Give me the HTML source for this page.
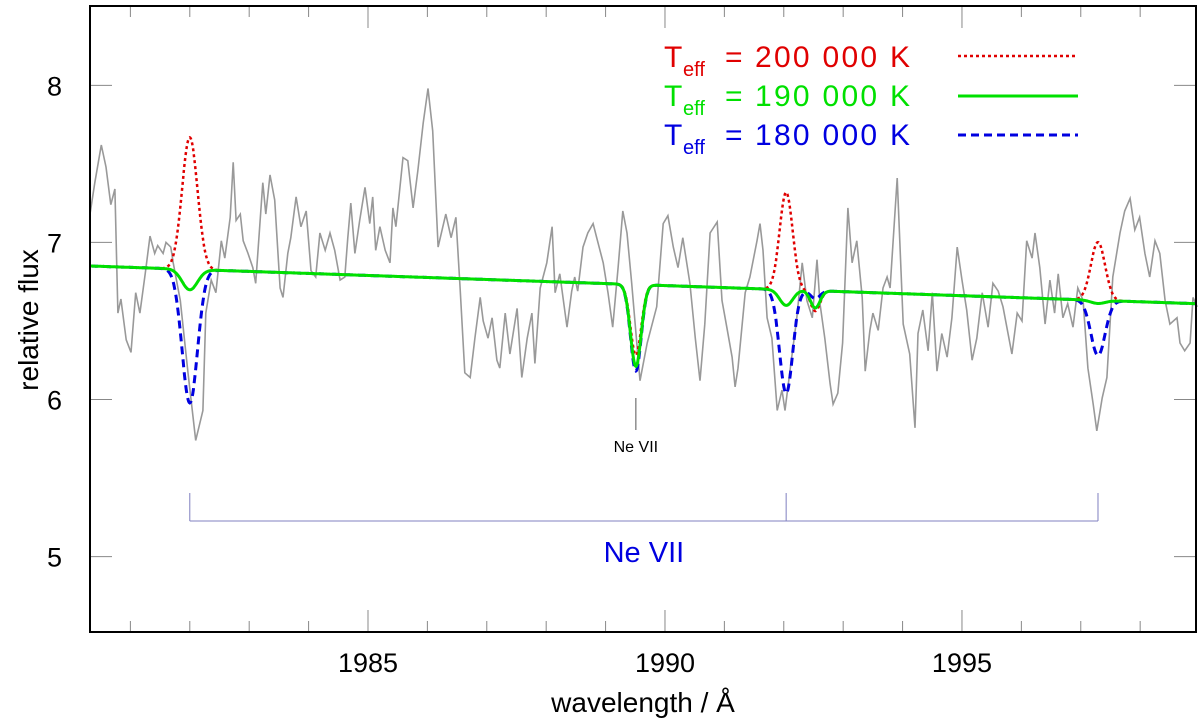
<!DOCTYPE html>
<html><head><meta charset="utf-8"><style>
html,body{margin:0;padding:0;background:#fff}
svg{display:block;font-family:"Liberation Sans",sans-serif}
</style></head><body>
<svg id="chart" width="1200" height="725" viewBox="0 0 1200 725" xmlns="http://www.w3.org/2000/svg">
<g id="plot"></g>
<g id="axes"></g>
<text x="0" y="0" transform="translate(38,320) rotate(-90)" text-anchor="middle" font-size="28">relative flux</text>
<text x="643" y="712" text-anchor="middle" font-size="28">wavelength / Å</text>
<g font-size="30">
<text y="67" fill="#e00000"><tspan x="664">T</tspan><tspan x="683" font-size="20" dy="9">eff</tspan><tspan x="725" dy="-9">=</tspan><tspan x="755" textLength="155">200 000 K</tspan></text>
<text y="106" fill="#00e000"><tspan x="664">T</tspan><tspan x="683" font-size="20" dy="9">eff</tspan><tspan x="725" dy="-9">=</tspan><tspan x="755" textLength="155">190 000 K</tspan></text>
<text y="145" fill="#0000e0"><tspan x="664">T</tspan><tspan x="683" font-size="20" dy="9">eff</tspan><tspan x="725" dy="-9">=</tspan><tspan x="755" textLength="155">180 000 K</tspan></text>
<line x1="958" y1="56" x2="1078" y2="56" stroke="#e00000" stroke-width="2.5" stroke-dasharray="3,3"/>
<line x1="958" y1="96" x2="1078" y2="96" stroke="#00e000" stroke-width="3"/>
<line x1="958" y1="135" x2="1078" y2="135" stroke="#0000e0" stroke-width="3" stroke-dasharray="8,5"/>
</g>
</svg>
<script>
const xMin = 1980.32, xMax = 1998.94, yMin = 4.52, yMax = 8.505;
const xTicks = [1981,1982,1983,1984,1985,1986,1987,1988,1989,1990,1991,1992,1993,1994,1995,1996,1997,1998];
const xTickLabels = [1985,1990,1995];
const yTickLabels = [5,6,7,8];
const obsWl = [1980.32,1980.40,1980.51,1980.59,1980.67,1980.74,1980.79,1980.84,1980.93,1981.01,1981.09,1981.16,1981.25,1981.33,1981.41,1981.46,1981.55,1981.60,1981.68,1981.72,1981.84,1981.97,1982.10,1982.22,1982.27,1982.36,1982.44,1982.53,1982.59,1982.68,1982.73,1982.78,1982.85,1982.90,1982.98,1983.06,1983.11,1983.23,1983.28,1983.35,1983.43,1983.52,1983.57,1983.65,1983.70,1983.79,1983.87,1983.96,1984.04,1984.12,1984.19,1984.28,1984.36,1984.44,1984.53,1984.61,1984.66,1984.71,1984.78,1984.86,1984.95,1985.03,1985.08,1985.13,1985.20,1985.29,1985.37,1985.42,1985.47,1985.59,1985.67,1985.76,1985.84,1985.93,1986.01,1986.09,1986.18,1986.31,1986.40,1986.48,1986.55,1986.63,1986.72,1986.80,1986.89,1986.94,1987.02,1987.09,1987.17,1987.22,1987.31,1987.39,1987.51,1987.59,1987.68,1987.76,1987.81,1987.90,1988.01,1988.10,1988.15,1988.23,1988.35,1988.43,1988.48,1988.53,1988.62,1988.70,1988.79,1988.85,1988.96,1989.04,1989.12,1989.21,1989.29,1989.36,1989.44,1989.58,1989.70,1989.86,1989.97,1990.05,1990.14,1990.22,1990.30,1990.42,1990.51,1990.59,1990.67,1990.76,1990.88,1990.96,1991.04,1991.13,1991.18,1991.23,1991.35,1991.43,1991.55,1991.60,1991.65,1991.72,1991.80,1991.89,1991.97,1992.02,1992.11,1992.22,1992.31,1992.39,1992.48,1992.56,1992.61,1992.69,1992.78,1992.83,1992.91,1992.99,1993.08,1993.15,1993.23,1993.32,1993.37,1993.45,1993.50,1993.59,1993.67,1993.74,1993.79,1993.91,1994.01,1994.12,1994.21,1994.26,1994.34,1994.43,1994.50,1994.58,1994.66,1994.75,1994.83,1994.92,1995.00,1995.08,1995.17,1995.25,1995.34,1995.44,1995.52,1995.61,1995.69,1995.84,1995.93,1996.01,1996.09,1996.18,1996.23,1996.31,1996.40,1996.48,1996.56,1996.62,1996.70,1996.78,1996.87,1996.95,1997.04,1997.12,1997.21,1997.27,1997.36,1997.44,1997.54,1997.66,1997.74,1997.83,1997.91,1997.99,1998.08,1998.16,1998.25,1998.33,1998.42,1998.50,1998.62,1998.67,1998.75,1998.84,1998.89,1998.96];
const obsFlux = [7.18,7.38,7.62,7.48,7.24,7.34,6.55,6.64,6.38,6.30,6.68,6.55,6.80,7.04,6.93,6.98,6.93,7.00,6.97,6.87,6.63,6.17,5.74,5.93,6.55,6.76,6.68,7.01,6.90,7.16,7.51,7.14,7.18,7.01,6.93,6.84,6.74,7.38,7.18,7.43,7.27,6.71,6.65,6.93,7.03,7.29,7.10,7.20,6.82,6.78,7.06,6.95,7.06,6.95,6.76,6.78,7.03,7.25,6.93,7.14,7.35,7.12,7.29,6.95,7.10,6.95,6.87,7.22,7.10,7.54,7.52,7.22,7.46,7.76,7.98,7.71,6.97,7.18,7.03,7.16,6.71,6.17,6.14,6.39,6.65,6.50,6.39,6.52,6.25,6.20,6.55,6.29,6.58,6.14,6.39,6.55,6.23,6.71,6.87,7.10,6.68,6.80,6.46,6.69,6.78,6.69,6.97,7.06,7.12,7.03,6.87,6.68,6.46,6.84,7.20,7.06,6.74,6.12,6.36,6.59,7.12,7.17,6.97,6.84,7.03,6.74,6.39,6.12,6.48,7.06,7.13,6.63,6.46,6.27,6.08,6.20,6.68,6.78,7.01,7.12,6.95,6.52,6.39,5.93,6.06,5.93,6.20,6.52,6.87,6.63,6.52,6.89,6.61,6.39,6.10,5.97,6.04,6.36,7.22,6.87,7.01,6.65,6.18,6.44,6.55,6.44,6.71,6.78,6.71,7.41,6.48,6.29,5.82,6.42,6.57,6.31,6.68,6.18,6.42,6.27,6.52,6.97,6.76,6.57,6.25,6.39,6.68,6.46,6.74,6.69,6.59,6.29,6.55,6.50,7.01,6.90,7.06,6.84,6.48,6.76,6.55,6.80,6.52,6.61,6.46,6.71,6.63,6.20,5.97,5.80,6.01,6.14,6.78,7.06,7.20,7.28,7.08,7.16,6.93,6.78,7.01,6.93,6.63,6.48,6.52,6.36,6.31,6.36,6.65,6.59];
const contWl = [1980.32,1998.94];
const contFlux = [6.85,6.61];
const lineCenters = [1982.00,1989.51,1992.04,1992.53,1997.29];
const lineWidths = [0.13,0.09,0.11,0.08,0.12];
const depth200k = [0.84,-0.45,0.62,-0.13,0.37];
const depth190k = [-0.13,-0.52,-0.10,-0.11,-0.02];
const depth180k = [-0.85,-0.55,-0.66,-0.05,-0.35];
const neLabelWl = 1989.51;
const bracketWl = [1982.00,1992.04,1997.29];

const L=90,R=1196,T=6,B=632;
const sx=v=>L+(v-xMin)/(xMax-xMin)*(R-L);
const sy=v=>B-(v-yMin)/(yMax-yMin)*(B-T);
const NS='http://www.w3.org/2000/svg';
function mk(tag,parent,attrs){const e=document.createElementNS(NS,tag);for(const k in attrs)e.setAttribute(k,attrs[k]);parent.appendChild(e);return e;}
const plot=document.getElementById('plot'),axes=document.getElementById('axes');

let d='';
const n=Math.min(obsWl.length,obsFlux.length);
for(let i=0;i<n;i++){d+=(i?'L':'M')+sx(obsWl[i]).toFixed(1)+','+sy(obsFlux[i]).toFixed(1);}
const obs=mk('path',plot,{d:d,fill:'none',stroke:'#999','stroke-width':1.6});



function model(dep){
  let p='';
  for(let w=xMin;w<=xMax+1e-9;w+=0.01){
    const c=contFlux[0]+(contFlux[1]-contFlux[0])*(w-contWl[0])/(contWl[1]-contWl[0]);
    let f=c;
    for(let j=0;j<lineCenters.length;j++){const z=(w-lineCenters[j])/lineWidths[j];f+=dep[j]*Math.exp(-0.5*z*z);}
    p+=(p?'L':'M')+sx(w).toFixed(1)+','+sy(f).toFixed(1);
  }
  return p;
}
const m1=mk('path',plot,{d:model(depth200k),fill:'none',stroke:'#e00000','stroke-width':2.5,'stroke-dasharray':'3,3'});


const m3=mk('path',plot,{d:model(depth180k),fill:'none',stroke:'#0000e0','stroke-width':3,'stroke-dasharray':'8,5'});


const m2=mk('path',plot,{d:model(depth190k),fill:'none',stroke:'#00e000','stroke-width':3});



const nx=sx(neLabelWl);
const nm=mk('line',plot,{x1:nx,y1:398,x2:nx,y2:430,stroke:'#555','stroke-width':1});


const nt=mk('text',plot,{x:nx,y:452,'text-anchor':'middle','font-size':16});
nt.textContent='Ne VII';



const bx=bracketWl.map(sx);
const bp=mk('path',plot,{d:'M'+bx[0]+',521L'+bx[bx.length-1]+',521'+bx.map(x=>'M'+x+',493L'+x+',521').join(''),fill:'none',stroke:'#8080c0','stroke-width':1});


const bt=mk('text',plot,{x:(bx[0]+bx[bx.length-1])/2,y:562,'text-anchor':'middle','font-size':29,fill:'#0000e0'});
bt.textContent='Ne VII';



xTicks.forEach(v=>{
  const x=sx(v);const major=xTickLabels.indexOf(v)>=0;const len=major?22:11;
  const t1=mk('line',axes,{x1:x,y1:B,x2:x,y2:B-len,stroke:'#888','stroke-width':1});
  
  
  const t2=mk('line',axes,{x1:x,y1:T,x2:x,y2:T+len,stroke:'#888','stroke-width':1});
  
  
  if(major){const tl=mk('text',axes,{x:x,y:672,'text-anchor':'middle','font-size':27});tl.textContent=v;
    
    }
});
yTickLabels.forEach(v=>{
  const y=sy(v);
  const t1=mk('line',axes,{x1:L,y1:y,x2:L+22,y2:y,stroke:'#888','stroke-width':1});
  
  
  const t2=mk('line',axes,{x1:R,y1:y,x2:R-22,y2:y,stroke:'#888','stroke-width':1});
  
  
  const tl=mk('text',axes,{x:62,y:y+10,'text-anchor':'end','font-size':27});tl.textContent=v;
  
  
});
const fr=mk('rect',axes,{x:L,y:T,width:R-L,height:B-T,fill:'none',stroke:'#000','stroke-width':2});


</script>
</body></html>
